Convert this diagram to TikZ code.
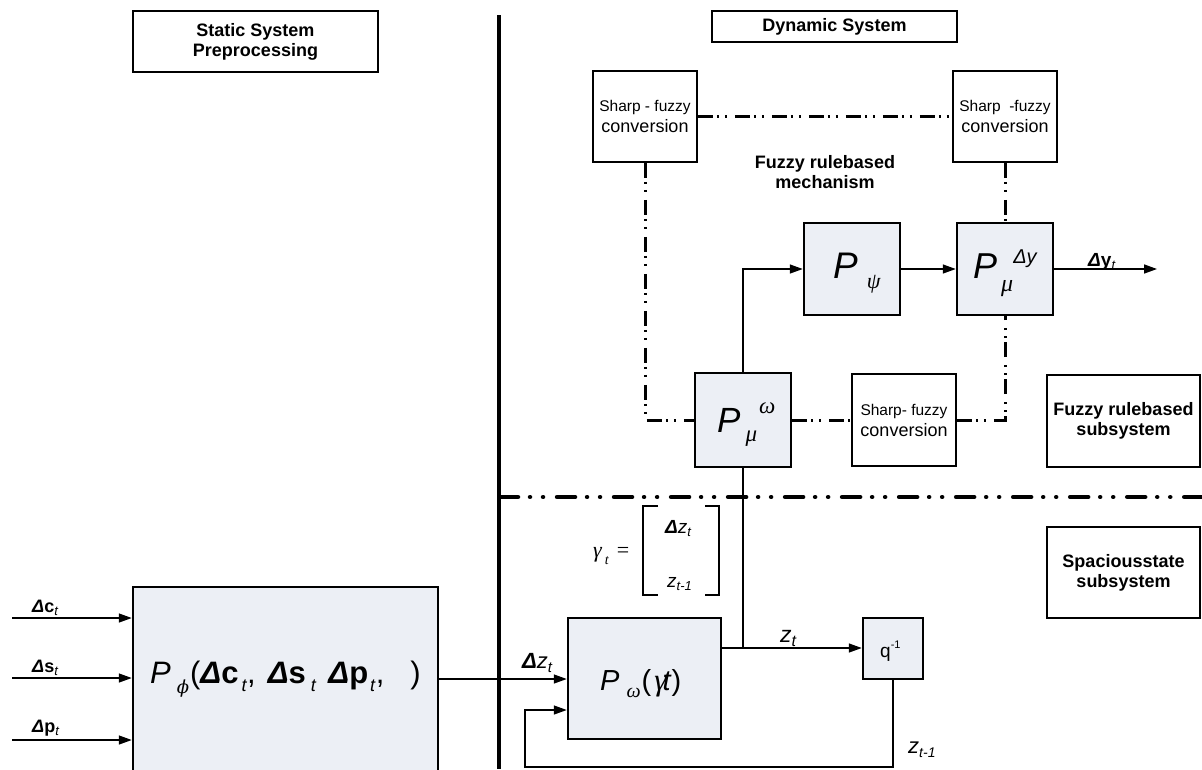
\documentclass[tikz,border=0pt]{standalone}
\usepackage{fontspec}
\setmainfont{Liberation Sans}
\newfontfamily\grk{Liberation Serif}
\newfontfamily\grkb{DejaVu Serif}
\usetikzlibrary{arrows.meta}
\definecolor{boxfill}{RGB}{236,239,245}
\newcommand\myfs[1]{\fontsize{#1}{#1}\selectfont}
\newcommand\Dl{\textbf{\textit{Δ}}}
\newcommand\gk[1]{{\grk\itshape #1}}
\tikzset{
  wbox/.style={draw, line width=1.6pt, fill=white, inner sep=0pt, align=center},
  pbox/.style={draw, line width=2.5pt, fill=boxfill, inner sep=0pt},
  conn/.style={line width=1.5pt, -{Triangle[length=13pt,width=9pt]}},
  plain/.style={line width=1.5pt},
  ddd/.style={line width=3pt, dash pattern=on 15pt off 4pt on 2pt off 6pt on 2pt off 8pt},
  sepline/.style={line width=4.5pt, line cap=round, dash pattern=on 18pt off 12pt on 0.01pt off 13pt on 0.01pt off 14pt},
  lbl/.style={inner sep=0pt, anchor=base west},
  bold/.style={font=\myfs{17.5}\bfseries, align=center}
}
\begin{document}
\begin{tikzpicture}[x=1pt,y=-1pt]
\useasboundingbox (0,0) rectangle (1202,769);

% title boxes
\node[wbox, minimum width=245pt, minimum height=61pt, font=\fontsize{18}{20}\selectfont\bfseries] (static) at (255.5,41.5) {Static System\\Preprocessing};
\node[wbox, minimum width=245pt, minimum height=31pt, font=\myfs{18}\bfseries] (dynamic) at (834.5,26.5) {Dynamic System};

% separator lines
\coordinate (sepT) at (499,15);
\coordinate (sepB) at (499,769);
\draw[line width=4pt] (sepT) -- (sepB);
\coordinate (hsL) at (500,497);
\coordinate (hsR) at (1204,497);
\draw[sepline] (hsL) -- (hsR);

% sharp-fuzzy boxes
\node[wbox, minimum width=104pt, minimum height=91pt, font=\fontsize{18}{21}\selectfont] (sf1) at (645,116.5) {{\fontsize{15.5}{21}\selectfont Sharp - fuzzy}\\conversion};
\node[wbox, minimum width=104pt, minimum height=91pt, font=\fontsize{18}{21}\selectfont] (sf2) at (1005,116.5) {{\fontsize{15.5}{21}\selectfont Sharp\ \ -fuzzy}\\conversion};
\node[wbox, minimum width=104pt, minimum height=92pt, font=\fontsize{18}{21}\selectfont] (sf3) at (904,420) {{\fontsize{15.5}{21}\selectfont Sharp- fuzzy}\\conversion};

\node[bold, font=\fontsize{18}{19.5}\selectfont\bfseries] (mech) at (825,172) {Fuzzy rulebased\\mechanism};

% side boxes
\node[wbox, minimum width=153pt, minimum height=92pt, font=\fontsize{18}{20}\selectfont\bfseries] (fzsub) at (1123.5,421) {Fuzzy rulebased\\subsystem};
\node[wbox, minimum width=153pt, minimum height=91pt, font=\fontsize{18}{20}\selectfont\bfseries] (spsub) at (1123.5,572.5) {Spaciousstate\\subsystem};

% P boxes
\node[pbox, minimum width=96pt, minimum height=92pt] (ppsi) at (852,269) {};
\node[pbox, minimum width=96pt, minimum height=92pt] (pmudy) at (1005,269) {};
\node[pbox, minimum width=96pt, minimum height=94pt] (pmuw) at (743,420) {};
\node[pbox, minimum width=153pt, minimum height=121pt] (pomega) at (644.5,678.5) {};
\node[pbox, minimum width=60pt, minimum height=61pt] (qbox) at (893,648.5) {};
\node[pbox, minimum width=305pt, minimum height=213pt] (pphi) at (285.5,693.5) {};

% P box labels
\node[lbl] (tpsi) at (833,278) {\myfs{37}\textit{P}\hspace{9pt}\raisebox{-10pt}{\myfs{22}\gk{ψ}}};
\node[lbl] (tmudy) at (973,278) {\myfs{36}\textit{P}\hspace{4pt}\raisebox{-13pt}{\myfs{24}\gk{μ}}\hspace{0pt}\raisebox{15pt}{\myfs{20}\textit{Δy}}};
\node[lbl] (tmuw) at (717,432) {\myfs{35}\textit{P}\hspace{5pt}\raisebox{-9pt}{\myfs{23}\gk{μ}}\hspace{2pt}\raisebox{19pt}{\myfs{23}\gk{ω}}};
\node[lbl] (tomega) at (600,690) {\myfs{29}\textit{P}\hspace{7pt}\raisebox{-7pt}{\myfs{20}\gk{ω}}\hspace{1pt}(\hspace{3pt}{\myfs{31}\gk{γ}}\hspace{-4pt}\textit{t})};
\node[lbl] (tq) at (880,657) {\myfs{19}q\raisebox{9pt}{\myfs{11}-1}};
\node[lbl] (tphi) at (150,683) {\myfs{31}\textit{P}\hspace{6pt}\raisebox{-10pt}{\myfs{18}{\grkb\itshape ϕ}}\hspace{1pt}(\Dl\textbf{c}\hspace{3pt}\raisebox{-8pt}{\myfs{18}\textit{t}},\hspace{12pt}\Dl\textbf{s}\hspace{5pt}\raisebox{-8pt}{\myfs{18}\textit{t}}\hspace{12pt}\Dl\textbf{p}\hspace{2pt}\raisebox{-8pt}{\myfs{18}\textit{t}},\hspace{26pt})};

% input labels
\node[lbl, font=\myfs{18}] (lc) at (32,612) {\Dl\textbf{c}\raisebox{-3pt}{\myfs{13}\textit{t}}};
\node[lbl, font=\myfs{18}] (ls) at (32,672) {\Dl\textbf{s}\raisebox{-3pt}{\myfs{13}\textit{t}}};
\node[lbl, font=\myfs{18}] (lp) at (32,732) {\Dl\textbf{p}\raisebox{-3pt}{\myfs{13}\textit{t}}};
\node[lbl, font=\myfs{19}] (ly) at (1088,266) {\Dl\textbf{y}\raisebox{-3pt}{\myfs{13}\textit{t}}};
\node[lbl, font=\myfs{23}] (lzt) at (780,642) {\textit{z}\raisebox{-4pt}{\myfs{16}\textit{t}}};
\node[lbl, font=\myfs{22}] (ldz) at (522,668) {\Dl\textit{z}\raisebox{-4pt}{\myfs{15}\textit{t}}};
\node[lbl, font=\myfs{22}] (lzt1) at (908,753) {\textit{z}\raisebox{-4pt}{\myfs{14}\textit{t-1}}};

% gamma matrix
\node[lbl, font=\myfs{22}] (lgam) at (593,557) {\gk{γ}\hspace{3pt}\raisebox{-7pt}{\myfs{14}\gk{t}}\hspace{8pt}{\grk =}};
\node[lbl, font=\myfs{19}] (m1) at (665,533) {\Dl\textit{z}\raisebox{-3pt}{\myfs{13}\textit{t}}};
\node[lbl, font=\myfs{19}] (m2) at (667,587) {\textit{z}\raisebox{-3pt}{\myfs{13}\textit{t-1}}};
\coordinate (bl1) at (658,506);
\coordinate (bl2) at (643,506);
\coordinate (bl3) at (643,595);
\coordinate (bl4) at (658,595);
\coordinate (br1) at (705,506);
\coordinate (br2) at (719,506);
\coordinate (br3) at (719,595);
\coordinate (br4) at (705,595);
\draw[line width=1.5pt] (bl1) -- (bl2) -- (bl3) -- (bl4);
\draw[line width=1.5pt] (br1) -- (br2) -- (br3) -- (br4);

% inputs
\coordinate (inc) at (12,618);
\coordinate (ins) at (12,678);
\coordinate (inp) at (12,740);
\draw[conn] (inc) -- (inc -| pphi.west);
\draw[conn] (ins) -- (ins -| pphi.west);
\draw[conn] (inp) -- (inp -| pphi.west);

% main connectors
\coordinate (din) at (0,679);
\draw[conn] (pphi.east |- din) -- (pomega.west |- din);
\coordinate (jz) at (743,648);
\draw[plain] (pmuw.south) -- (jz);
\draw[conn] (pomega.east |- jz) -- (qbox.west |- jz);
\coordinate (fbL) at (525,767);
\coordinate (fbT) at (525,710);
\draw[conn] (qbox.south) |- (fbL) -- (fbT) -- (pomega.west |- fbT);
\draw[conn] (pmuw.north) |- (ppsi.west);
\draw[conn] (ppsi) -- (pmudy);
\coordinate (yout) at (1157,269);
\draw[conn] (pmudy.east) -- (yout);

% dash-dot fuzzy links
\draw[ddd] (sf1.east) -- (sf2.west);
\draw[ddd] (sf1.south) |- (pmuw.west);
\draw[ddd] (pmuw.east) -- (sf3.west);
\draw[ddd] (sf3.east) -| (pmudy.south);
\draw[ddd] (sf2.south) -- (pmudy.north);
\end{tikzpicture}
\end{document}
